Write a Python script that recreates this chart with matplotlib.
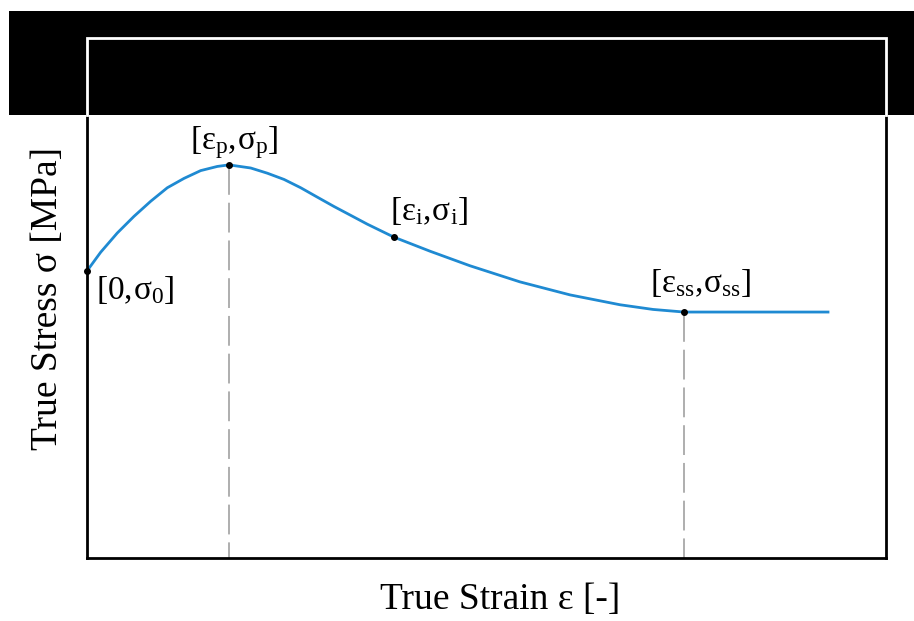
import matplotlib
matplotlib.use("Agg")
import matplotlib.pyplot as plt
from matplotlib.patches import Rectangle
from matplotlib.lines import Line2D

plt.rcParams["font.family"] = ["Liberation Serif", "DejaVu Serif"]
plt.rcParams["mathtext.fontset"] = "custom"
plt.rcParams["mathtext.rm"] = "Liberation Serif"
plt.rcParams["mathtext.it"] = "Liberation Serif"

# Flow curve (normalised strain / stress)
strain = [0.000, 0.0171, 0.0379, 0.0588, 0.0797, 0.1005, 0.1214, 0.1423, 0.1631,
          0.1777, 0.2049, 0.2257, 0.2466, 0.2675, 0.2882, 0.3091, 0.3300, 0.3508,
          0.3842, 0.4293, 0.4793, 0.5419, 0.6045, 0.6671, 0.7084, 0.7472, 0.9274]
stress = [0.552, 0.588, 0.625, 0.657, 0.686, 0.712, 0.730, 0.745, 0.753,
          0.756, 0.750, 0.740, 0.728, 0.712, 0.694, 0.676, 0.659, 0.642,
          0.617, 0.590, 0.562, 0.531, 0.506, 0.487, 0.478, 0.473, 0.473]

# Characteristic points
key_strain = [0.000, 0.1777, 0.3842, 0.7472]
key_stress = [0.552, 0.756, 0.617, 0.473]
key_labels = [r"$\mathrm{[0,\!σ_{0}]}$", r"$\mathrm{[ε_{p},\!σ_{p}]}$",
              r"$\mathrm{[ε_{i},\!σ_{i}]}$", r"$\mathrm{[ε_{ss},\!σ_{ss}]}$"]

fig = plt.figure(figsize=(9.14, 6.21), dpi=100)
ax = fig.add_axes([87 / 914, 1 - 558 / 621, 799 / 914, 520 / 621])
ax.set_xlim(0, 1)
ax.set_ylim(0, 1)
ax.set_xticks([])
ax.set_yticks([])
for s in ax.spines.values():
    s.set_linewidth(2.0)
    s.set_color("black")

# Dashed drop lines at peak and steady state
for i in (1, 3):
    ax.plot([key_strain[i], key_strain[i]], [key_stress[i], 0],
            color="#999999", lw=1.1, dashes=(19.5, 5.2), zorder=1)

ax.plot(strain, stress, color="#1f8ad2", lw=2.0, zorder=2, clip_on=False,
        solid_joinstyle="round")
ax.plot(key_strain, key_stress, "o", color="black", ms=4, zorder=3, clip_on=False)

fs = 24
ax.annotate(key_labels[0], (key_strain[0], key_stress[0]), xytext=(9, -3),
            textcoords="offset pixels", ha="left", va="top", fontsize=fs)
ax.annotate(key_labels[1], (key_strain[1], key_stress[1]), xytext=(5, 4),
            textcoords="offset pixels", ha="center", va="bottom", fontsize=fs)
ax.annotate(key_labels[2], (key_strain[2], key_stress[2]), xytext=(-4, 10),
            textcoords="offset pixels", ha="left", va="bottom", fontsize=fs)
ax.annotate(key_labels[3], (key_strain[3], key_stress[3]), xytext=(-34, 13),
            textcoords="offset pixels", ha="left", va="bottom", fontsize=fs)

fig.text(500 / 914, 1 - 600 / 621, "True Strain ε [-]", ha="center", va="center",
         fontsize=27)
fig.text(48 / 914, 1 - 299 / 621, "True Stress σ [MPa]", ha="center", va="center",
         rotation=90, fontsize=27)

# Black band across the top, frame shown in white inside it
band_bottom = 1 - 115 / 621
band_top = 1 - 11 / 621
fig.patches.append(Rectangle((9 / 914, band_bottom), 1 - 9 / 914, band_top - band_bottom,
                             transform=fig.transFigure, facecolor="black",
                             edgecolor="none", zorder=10))
x0, x1 = 87 / 914, 886 / 914
yt = 1 - 38 / 621
fig.lines.append(Line2D([x0, x0, x1, x1], [band_bottom, yt, yt, band_bottom],
                        transform=fig.transFigure, color="white", lw=2.0,
                        solid_joinstyle="miter", zorder=11))

fig.savefig("out.png", dpi=100)
